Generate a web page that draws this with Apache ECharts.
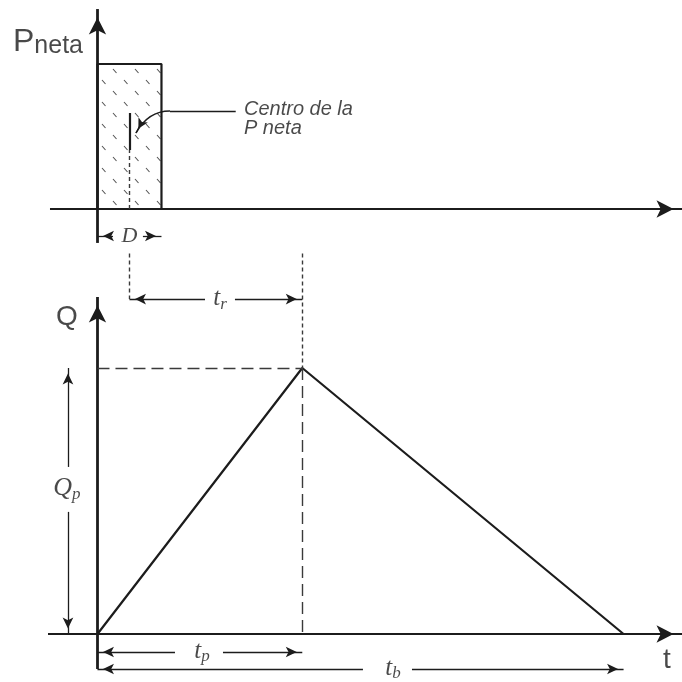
<!DOCTYPE html>
<html>
<head>
<meta charset="utf-8">
<script src="https://cdn.jsdelivr.net/npm/echarts@6/dist/echarts.min.js"></script>
<style>
  html, body { margin: 0; padding: 0; background: #fff; }
  #chart { width: 682px; height: 682px; }
</style>
</head>
<body>
<div id="chart"></div>
<script>
// lluvia neta (bloque rectangular de duracion D)
const lluviaT = [0, 0, 1, 1];
const lluviaP = [0, 1, 1, 0];
// hidrograma unitario triangular: inicio, pico (tp) y tiempo base (tb)
const hidroT = [0, 3.2, 8.22];
const hidroQ = [0, 1, 0];

const D = lluviaT[2];
const tp = hidroT[1];
const tb = hidroT[2];
const qp = hidroQ[1];
const tc = D / 2; // centro de la P neta

const INK = '#1c1c1c';
const GREY = '#3a3a3a';

// trama de guiones inclinados del bloque de lluvia
const hatch = document.createElement('canvas');
hatch.width = 22;
hatch.height = 22;
(function () {
    const c = hatch.getContext('2d');
    c.strokeStyle = '#555';
    c.lineWidth = 1.1;
    c.beginPath();
    c.moveTo(3, 3); c.lineTo(6.5, 7);
    c.moveTo(14, 14); c.lineTo(17.5, 18);
    c.stroke();
})();

// segmento de cota / eje con flecha opcional al final
function seg(x1, y1, x2, y2, o) {
    o = o || {};
    const a = {
        coord: [x1, y1],
        symbol: 'none',
        lineStyle: {
            color: o.color || INK,
            width: o.width || 1.3,
            type: o.type || 'solid'
        }
    };
    const size = o.size || [8, 11];
    const b = {
        coord: [x2, y2],
        symbol: o.arrow ? 'arrow' : 'none',
        symbolSize: size,
        symbolOffset: [0, size[1] / 2]
    };
    return [a, b];
}

const shortDash = [4, 3];
const longDash = [12, 6];
const bigArrow = [13, 17];

// flecha curva que señala el centro de la P neta
const notaIni = [1.133, 0.676];
const notaCtrl = [0.789, 0.676];
const notaFin = [0.602, 0.524];

const topLines = [
    seg(0, -0.234, 0, 1.379, { width: 2.8, arrow: true, size: bigArrow }),
    seg(-0.742, 0, 9.133, 0, { width: 2.2, arrow: true, size: bigArrow }),
    seg(tc, 0.407, tc, 0.662, { width: 2.2 }),
    seg(tc, 0, tc, 0.407, { color: GREY, width: 1.4, type: shortDash }),
    seg(2.16, notaIni[1], notaIni[0], notaIni[1], { width: 1.4 }),
    seg(0.677, 0.585, notaFin[0], notaFin[1], { width: 1.4, arrow: true, size: [8, 10] }),
    seg(0.242, -0.186, 0, -0.186, { arrow: true }),
    seg(0.71, -0.186, D, -0.186, { arrow: true })
];

const bottomLines = [
    seg(0, -0.1316, 0, 1.267, { width: 2.8, arrow: true, size: bigArrow }),
    seg(-0.773, 0, 9.133, 0, { width: 2.2, arrow: true, size: bigArrow }),
    seg(0, qp, tp, qp, { color: GREY, width: 1.4, type: longDash }),
    seg(tp, qp, tp, 0, { color: GREY, width: 1.4, type: longDash }),
    seg(tp, 1.43, tp, qp, { color: GREY, width: 1.4, type: shortDash }),
    seg(tc, 1.43, tc, 1.259, { color: GREY, width: 1.4, type: shortDash }),
    seg(1.68, 1.259, tc, 1.259, { arrow: true }),
    seg(2.148, 1.259, tp, 1.259, { arrow: true }),
    seg(-0.461, 0.628, -0.461, qp, { arrow: true }),
    seg(-0.461, 0.459, -0.461, 0, { arrow: true }),
    seg(1.211, -0.0677, 0, -0.0677, { arrow: true }),
    seg(1.961, -0.0677, tp, -0.0677, { arrow: true }),
    seg(4.148, -0.1316, 0, -0.1316, { arrow: true }),
    seg(4.914, -0.1316, tb, -0.1316, { arrow: true })
];

const serif = 'Liberation Serif';
const sans = 'Liberation Sans';
const rich = {
    P: { fontFamily: sans, fontSize: 32, color: INK, verticalAlign: 'bottom' },
    neta: { fontFamily: sans, fontSize: 25, color: INK, verticalAlign: 'bottom' },
    sans: { fontFamily: sans, fontSize: 28, color: INK },
    note: { fontFamily: sans, fontStyle: 'italic', fontSize: 20, lineHeight: 19, color: INK },
    it: { fontFamily: serif, fontStyle: 'italic', fontSize: 25, color: INK, verticalAlign: 'bottom', padding: [0, 0, 2, 0] },
    itQ: { fontFamily: serif, fontStyle: 'italic', fontSize: 26, color: INK, verticalAlign: 'bottom', padding: [0, 0, 2, 0] },
    sub: { fontFamily: serif, fontStyle: 'italic', fontSize: 17, color: INK, verticalAlign: 'bottom' },
    D: { fontFamily: serif, fontStyle: 'italic', fontSize: 22, color: INK }
};

// [t, valor, texto, alineacion]
const topLabels = [
    [-0.773, 1.15, '{P|P}{neta|neta}', 'center'],
    [2.289, 0.62, '{note|Centro de la}\n{note|P neta}', 'left'],
    [tc, -0.186, '{D|D}', 'center']
];
const bottomLabels = [
    [1.914, 1.256, '{it|t}{sub|r}', 'center'],
    [-0.477, 1.192, '{sans|Q}', 'center'],
    [-0.477, 0.545, '{itQ|Q}{sub|p}', 'center'],
    [1.633, -0.0677, '{it|t}{sub|p}', 'center'],
    [4.617, -0.1316, '{it|t}{sub|b}', 'center'],
    [8.898, -0.098, '{sans|t}', 'center']
];

function labelSeries(data, xi) {
    return {
        type: 'scatter',
        xAxisIndex: xi,
        yAxisIndex: xi,
        symbolSize: 0,
        silent: true,
        clip: false,
        data: data.map(d => ({ value: [d[0], d[1]], txt: d[2],
            label: { align: d[3] } })),
        label: {
            show: true,
            position: 'inside',
            verticalAlign: 'middle',
            formatter: p => p.data.txt,
            rich: rich
        }
    };
}

const hidden = { show: false };
function axisX(gi) {
    return { type: 'value', gridIndex: gi, min: -1.523, max: 9.133,
        axisLine: hidden, axisTick: hidden, axisLabel: hidden, splitLine: hidden };
}
function axisY(gi, min, max) {
    return { type: 'value', gridIndex: gi, min: min, max: max,
        axisLine: hidden, axisTick: hidden, axisLabel: hidden, splitLine: hidden };
}

const chart = echarts.init(document.getElementById('chart'), null, { renderer: 'canvas' });
chart.setOption({
    backgroundColor: '#fff',
    animation: false,
    grid: [
        { left: 0, right: 0, top: 0, height: 250 },
        { left: 0, right: 0, top: 250, height: 432 }
    ],
    xAxis: [axisX(0), axisX(1)],
    yAxis: [axisY(0, -0.2828, 1.4414), axisY(1, -0.1805, 1.4436)],
    series: [
        {
            type: 'line',
            xAxisIndex: 0,
            yAxisIndex: 0,
            data: lluviaT.map((t, i) => [t, lluviaP[i]]),
            symbol: 'none',
            color: INK,
            lineStyle: { color: INK, width: 2.2 },
            areaStyle: { color: { image: hatch, repeat: 'repeat' }, opacity: 1 },
            clip: false,
            silent: true,
            z: 2,
            markLine: {
                silent: true,
                symbol: ['none', 'none'],
                label: { show: false },
                emphasis: { disabled: true },
                data: topLines
            }
        },
        {
            type: 'line',
            xAxisIndex: 1,
            yAxisIndex: 1,
            data: hidroT.map((t, i) => [t, hidroQ[i]]),
            symbol: 'none',
            color: INK,
            lineStyle: { color: INK, width: 2.2 },
            clip: false,
            silent: true,
            z: 3,
            markLine: {
                silent: true,
                symbol: ['none', 'none'],
                label: { show: false },
                emphasis: { disabled: true },
                data: bottomLines
            }
        },
        labelSeries(topLabels, 0),
        labelSeries(bottomLabels, 1)
    ]
});

// tramo curvo de la flecha, situado con la escala del grid superior
const a = chart.convertToPixel({ gridIndex: 0 }, notaIni);
const c = chart.convertToPixel({ gridIndex: 0 }, notaCtrl);
const b = chart.convertToPixel({ gridIndex: 0 }, notaFin);
chart.setOption({
    graphic: [{
        type: 'bezierCurve',
        silent: true,
        z: 10,
        shape: { x1: a[0], y1: a[1], cpx1: c[0], cpy1: c[1], x2: b[0], y2: b[1] },
        style: { stroke: INK, lineWidth: 1.4, fill: null }
    }]
});
</script>
</body>
</html>
